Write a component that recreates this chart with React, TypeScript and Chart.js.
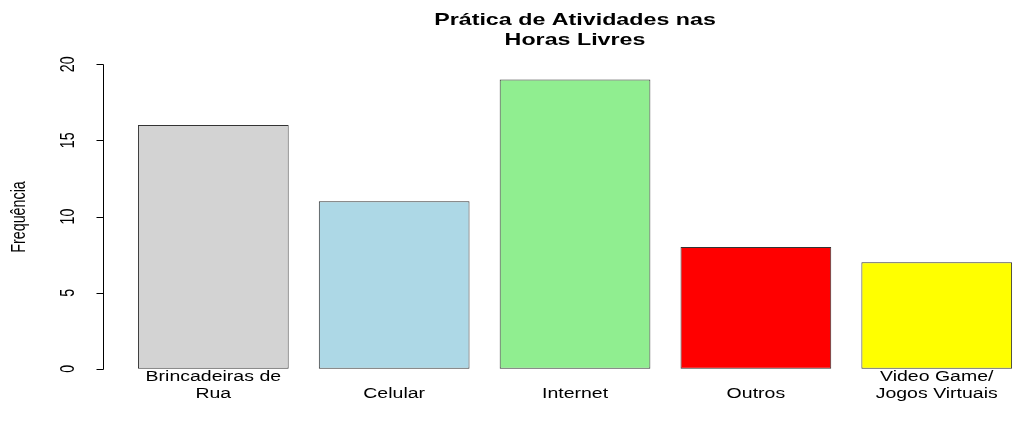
import React, { useEffect, useRef } from "react";
import { Chart, registerables } from "chart.js";

Chart.register(...registerables);

const titleLines = ["Prática de Atividades nas", "Horas Livres"];
const yTitle = "Frequência";
const categories = ["Brincadeiras de\nRua", "Celular", "Internet", "Outros", "Video Game/\nJogos Virtuais"];
const values = [16, 11, 19, 8, 7];
const barColors = ["#D3D3D3", "#ADD8E6", "#90EE90", "#FF0000", "#FFFF00"];
const yTicks = [0, 5, 10, 15, 20];
// R barplot: width 1, space 0.2 => centers at 0.7, 1.9, ...
const barCenters = [0.7, 1.9, 3.1, 4.3, 5.5];

const SX = 1.5;
const SY = 1.1;
const FONT = "'Liberation Sans', Arial, Helvetica, sans-serif";

function drawText(ctx: CanvasRenderingContext2D, text: string, x: number, y: number, font: string, rot = 0) {
  ctx.save();
  ctx.translate(x, y);
  ctx.scale(SX, SY);
  if (rot) ctx.rotate(rot);
  ctx.font = font;
  ctx.fillStyle = "#000";
  ctx.textAlign = "center";
  ctx.textBaseline = "middle";
  ctx.fillText(text, 0, 0);
  ctx.restore();
}

const decorations = {
  id: "rDecorations",
  afterDraw(chart: any) {
    const ctx: CanvasRenderingContext2D = chart.ctx;
    const ys = chart.scales.y;
    const xs = chart.scales.x;
    const axisX = xs.getPixelForValue(-0.032);
    ctx.save();
    ctx.strokeStyle = "#000";
    ctx.lineWidth = 1;
    ctx.beginPath();
    const yTop = Math.round(ys.getPixelForValue(yTicks[yTicks.length - 1])) + 0.5;
    const yBot = Math.round(ys.getPixelForValue(yTicks[0])) + 0.5;
    const ax = Math.round(axisX) + 0.5;
    ctx.moveTo(ax, yTop);
    ctx.lineTo(ax, yBot);
    yTicks.forEach((t) => {
      const py = Math.round(ys.getPixelForValue(t)) + 0.5;
      ctx.moveTo(ax, py);
      ctx.lineTo(ax - 7, py);
    });
    ctx.stroke();
    ctx.restore();
    yTicks.forEach((t) => {
      drawText(ctx, String(t), ax - 35, ys.getPixelForValue(t), `13px ${FONT}`, -Math.PI / 2);
    });
    drawText(ctx, yTitle, 20, (yTop + yBot) / 2, `13px ${FONT}`, -Math.PI / 2);
    categories.forEach((c, i) => {
      const lines = c.split("\n");
      const px = xs.getPixelForValue(barCenters[i]);
      const n = lines.length;
      lines.forEach((l, j) => {
        const yy = 394 - (n - 1 - j) * 16.5;
        drawText(ctx, l, px, yy, `13px ${FONT}`);
      });
    });
    const cx = (xs.getPixelForValue(-0.032) + xs.getPixelForValue(6.232)) / 2;
    titleLines.forEach((l, j) => {
      drawText(ctx, l, cx, 20 + j * 20, `bold 15.5px ${FONT}`);
    });
  },
};

export default function App() {
  const ref = useRef<HTMLCanvasElement>(null);
  useEffect(() => {
    if (!ref.current) return;
    const chart = new Chart(ref.current, {
      type: "bar",
      data: {
        datasets: [
          {
            data: values.map((v, i) => ({ x: barCenters[i], y: v })),
            backgroundColor: barColors,
            borderColor: "#333",
            borderWidth: 1,
            borderSkipped: false,
            categoryPercentage: 1,
            barPercentage: 1 / 1.2,
          },
        ],
      },
      options: {
        animation: false,
        responsive: false,
        layout: { padding: { left: 103, top: 52, right: 0, bottom: 60 } },
        plugins: { legend: { display: false }, tooltip: { enabled: false } },
        scales: {
          x: {
            type: "linear",
            min: -0.032,
            max: 6.152,
            display: false,
            offset: false,
            ticks: { stepSize: 100, maxTicksLimit: 2 },
          },
          y: { type: "linear", min: -0.8, max: 20.8, display: false },
        },
      },
      plugins: [decorations],
    });
    return () => chart.destroy();
  }, []);
  return (
    <div style={{ position: "absolute", left: 0, top: 0, width: 1035, height: 441, background: "#fff" }}>
      <canvas ref={ref} width={1035} height={441} style={{ width: 1035, height: 441 }} />
    </div>
  );
}
